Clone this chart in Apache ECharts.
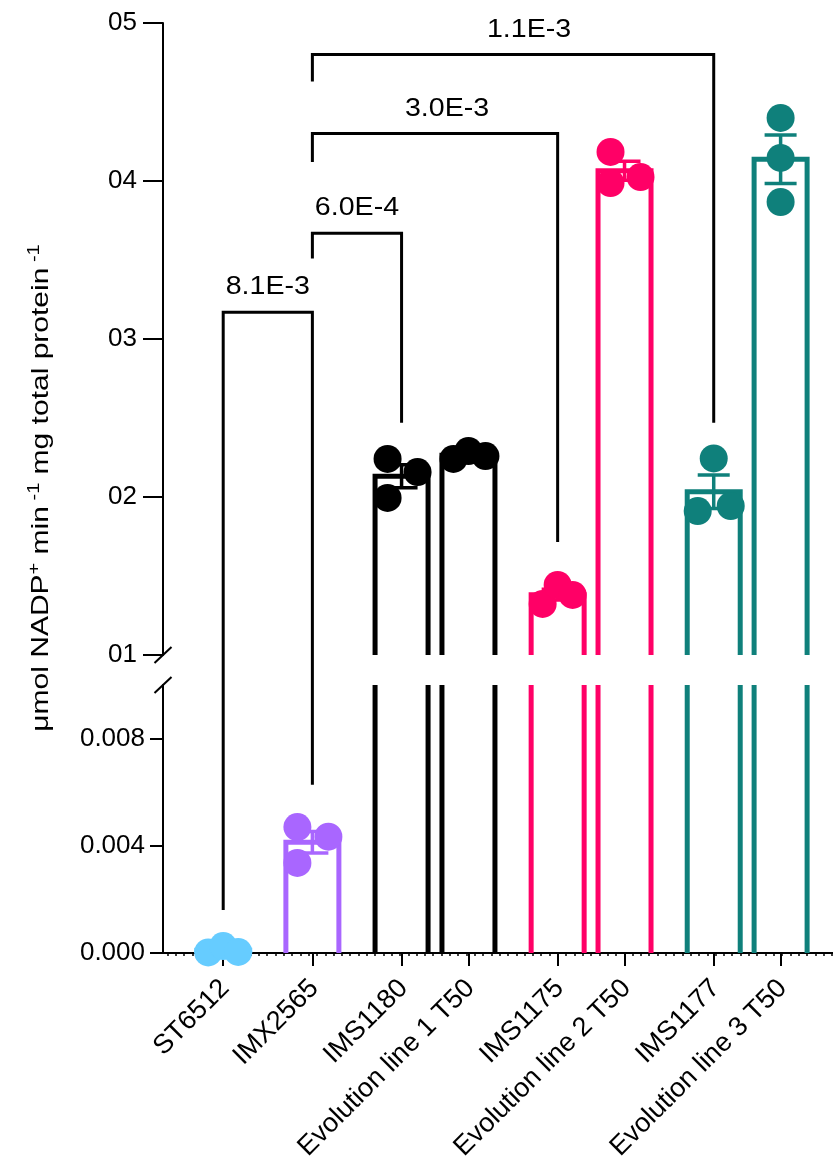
<!DOCTYPE html>
<html>
<head>
<meta charset="utf-8">
<script src="https://cdn.jsdelivr.net/npm/echarts@6/dist/echarts.min.js"></script>
<style>
  html, body { margin: 0; padding: 0; background: #fff; }
  #main { width: 833px; height: 1156px; }
</style>
</head>
<body>
<div id="main"></div>
<script>
// strains, in plotting order
const strains = ['ST6512', 'IMX2565', 'IMS1180', 'Evolution line 1 T50', 'IMS1175', 'Evolution line 2 T50', 'IMS1177', 'Evolution line 3 T50'];
// parent strain + its evolved line sit closer together
const groups = [[0], [1], [2, 3], [4, 5], [6, 7]];
const colors = ['#66ccff', '#a966ff', '#000000', '#000000', '#ff0066', '#ff0066', '#0f807b', '#0f807b'];

// three biological replicates per strain (umol NADP+ min-1 mg protein-1)
const rep1 = [0.00002, 0.00470, 0.2241, 0.2241, 0.1323, 0.4184, 0.2244, 0.4399];
const rep2 = [0.00026, 0.00434, 0.2158, 0.2291, 0.1443, 0.4025, 0.1911, 0.4146];
const rep3 = [0.00004, 0.00336, 0.1994, 0.2259, 0.1380, 0.3987, 0.1943, 0.3867];

// broken y axis
const upperTicks = [0.1, 0.2, 0.3, 0.4, 0.5];
const upperTickLabels = ['01', '02', '03', '04', '05'];
const upperMinor = [0.15, 0.25, 0.35, 0.45];
const lowerTicks = [0, 0.004, 0.008];
const lowerTickLabels = ['0.000', '0.004', '0.008'];
const lowerMinor = [0.002, 0.006];
const lowerMax = 0.01;

// significance brackets (strain index from / to, heights, p value)
const bracketFrom = [0, 1, 1, 1];
const bracketTo = [1, 2, 4, 6];
const bracketTop = [0.317, 0.367, 0.430, 0.480];
const bracketFromEnd = [0.0016, 0.351, 0.412, 0.463];
const bracketToEnd = [0.00628, 0.247, 0.1715, 0.247];
const bracketText = ['8.1E-3', '6.0E-4', '3.0E-3', '1.1E-3'];
const bracketTextShift = [0, 0, 12, 16]; // px

// horizontal jitter of the dots, px
const jitter = [[-15, 0, 15], [-15, 16, -15], [-14, 16, -14], [-15, 0, 17], [-15, 0, 15], [-14, 16, -14], [0, -16, 17], [0, 0, 0]];

const FONT = '"Liberation Sans", Arial, sans-serif';
const upperMin = upperTicks[0];
const upperMax = upperTicks[upperTicks.length - 1];
const xMin = -2.7, xMax = 27.35;

// x positions: 3 units inside a pair, 4 between groups
const pos = [];
let p = 0;
groups.forEach(g => g.forEach((s, k) => { pos[s] = p; p += k < g.length - 1 ? 3 : 4; }));

const reps = strains.map((s, i) => [rep1[i], rep2[i], rep3[i]]);
const means = reps.map(r => (r[0] + r[1] + r[2]) / 3);
const sems = reps.map((r, i) => {
  const m = means[i];
  const v = r.reduce((a, x) => a + (x - m) * (x - m), 0) / (r.length - 1);
  return Math.sqrt(v / r.length);
});
const inUpper = v => v >= upperMin;

const dotTicks = [];
for (let t = xMin + 0.2; t < xMax; t += 0.3725) dotTicks.push(t);

function barSeries(xi, yi) {
  return {
    type: 'custom', xAxisIndex: xi, yAxisIndex: yi, clip: true, z: 1, silent: true,
    data: strains.map((s, i) => [pos[i], means[i], i]),
    renderItem: (params, api) => {
      const i = api.value(2);
      const top = api.coord([api.value(0), api.value(1)]);
      const base = api.coord([api.value(0), 0]);
      const hw = 26.5;
      return {
        type: 'polyline',
        shape: { points: [[top[0] - hw, base[1]], [top[0] - hw, top[1]], [top[0] + hw, top[1]], [top[0] + hw, base[1]]] },
        style: { stroke: colors[i], lineWidth: 5, fill: null, lineJoin: 'miter' }
      };
    }
  };
}

function errSeries(xi, yi, upper) {
  const data = [];
  strains.forEach((s, i) => { if (inUpper(means[i]) === upper) data.push([pos[i], means[i], sems[i], i]); });
  return {
    type: 'custom', xAxisIndex: xi, yAxisIndex: yi, z: 2, silent: true,
    data: data,
    renderItem: (params, api) => {
      const i = api.value(3);
      const hi = api.coord([api.value(0), api.value(1) + api.value(2)]);
      const lo = api.coord([api.value(0), api.value(1) - api.value(2)]);
      const cw = 16;
      const st = { stroke: colors[i], lineWidth: 3.5 };
      return {
        type: 'group',
        children: [
          { type: 'line', shape: { x1: hi[0], y1: hi[1], x2: lo[0], y2: lo[1] }, style: st },
          { type: 'line', shape: { x1: hi[0] - cw, y1: hi[1], x2: hi[0] + cw, y2: hi[1] }, style: st },
          { type: 'line', shape: { x1: lo[0] - cw, y1: lo[1], x2: lo[0] + cw, y2: lo[1] }, style: st }
        ]
      };
    }
  };
}

function dotSeries(xi, yi, upper) {
  const data = [];
  reps.forEach((r, i) => r.forEach((v, k) => {
    if (inUpper(v) === upper) {
      data.push({ value: [pos[i], v], symbolOffset: [jitter[i][k], 0], itemStyle: { color: colors[i], opacity: 1 } });
    }
  }));
  return {
    type: 'scatter', xAxisIndex: xi, yAxisIndex: yi, z: 3, silent: true,
    symbol: 'circle', symbolSize: 28, itemStyle: { opacity: 1 }, data: data
  };
}

const tickStyle = { color: '#000', width: 2 };
const blackLine = { show: true, onZero: false, lineStyle: { color: '#000', width: 2 } };
const noLine = { show: false, onZero: false };

const option = {
  animation: false,
  grid: [
    { left: 163, right: 0, top: 23, height: 632, outerBoundsMode: 'none' },
    { left: 163, right: 0, top: 685, height: 268, outerBoundsMode: 'none' }
  ],
  xAxis: [
    { type: 'value', gridIndex: 0, min: xMin, max: xMax, show: false },
    {
      type: 'value', gridIndex: 1, min: xMin, max: xMax, position: 'bottom',
      axisLine: blackLine,
      axisTick: { show: true, customValues: pos, length: 13, lineStyle: tickStyle },
      axisLabel: { show: false },
      splitLine: { show: false }
    },
    {
      type: 'value', gridIndex: 1, min: xMin, max: xMax, position: 'bottom',
      axisLine: noLine,
      axisTick: { show: true, customValues: dotTicks, length: 3, lineStyle: { color: '#000', width: 1.5 } },
      axisLabel: { show: false },
      splitLine: { show: false }
    }
  ],
  yAxis: [
    {
      type: 'value', gridIndex: 0, min: upperMin, max: upperMax,
      axisLine: blackLine,
      axisTick: { show: true, customValues: upperTicks, length: 20, lineStyle: tickStyle },
      axisLabel: {
        show: true, customValues: upperTicks, margin: 26, fontFamily: FONT, fontSize: 26, color: '#000',
        formatter: v => upperTickLabels[upperTicks.indexOf(v)]
      },
      splitLine: { show: false }
    },
    {
      type: 'value', gridIndex: 0, min: upperMin, max: upperMax,
      axisLine: noLine,
      axisTick: { show: true, customValues: upperMinor, length: 10, lineStyle: tickStyle },
      axisLabel: { show: false },
      splitLine: { show: false }
    },
    {
      type: 'value', gridIndex: 1, min: 0, max: lowerMax,
      axisLine: blackLine,
      axisTick: { show: true, customValues: lowerTicks, length: 13, lineStyle: tickStyle },
      axisLabel: {
        show: true, customValues: lowerTicks, margin: 18, fontFamily: FONT, fontSize: 26, color: '#000',
        formatter: v => lowerTickLabels[lowerTicks.indexOf(v)]
      },
      splitLine: { show: false }
    },
    {
      type: 'value', gridIndex: 1, min: 0, max: lowerMax,
      axisLine: noLine,
      axisTick: { show: true, customValues: lowerMinor, length: 7, lineStyle: tickStyle },
      axisLabel: { show: false },
      splitLine: { show: false }
    }
  ],
  series: [
    barSeries(0, 0),
    barSeries(1, 2),
    errSeries(0, 0, true),
    errSeries(1, 2, false),
    dotSeries(0, 0, true),
    dotSeries(1, 2, false)
  ]
};

const chart = echarts.init(document.getElementById('main'));
chart.setOption(option);

// pixel position of a value, in whichever half of the broken axis it falls
function toPx(x, v) {
  return inUpper(v)
    ? chart.convertToPixel({ xAxisIndex: 0, yAxisIndex: 0 }, [x, v])
    : chart.convertToPixel({ xAxisIndex: 1, yAxisIndex: 2 }, [x, v]);
}
const lowPx = (x, v) => chart.convertToPixel({ xAxisIndex: 1, yAxisIndex: 2 }, [x, v]);

const graphics = [];
bracketText.forEach((t, b) => {
  const x1 = pos[bracketFrom[b]], x2 = pos[bracketTo[b]];
  const pts = [toPx(x1, bracketFromEnd[b]), toPx(x1, bracketTop[b]), toPx(x2, bracketTop[b]), toPx(x2, bracketToEnd[b])];
  graphics.push({ type: 'polyline', shape: { points: pts }, style: { stroke: '#000', lineWidth: 3, fill: null }, z: 5 });
  graphics.push({
    type: 'text', x: (pts[1][0] + pts[2][0]) / 2 + bracketTextShift[b], y: pts[1][1] - 25, scaleX: 1.1, z: 5,
    style: { text: t, font: '26px ' + FONT, fill: '#000', align: 'center', verticalAlign: 'middle' }
  });
});

// category labels, rotated 45 degrees under their ticks
strains.forEach((s, i) => {
  const c = lowPx(pos[i], 0);
  graphics.push({
    type: 'text', x: c[0] + 2, y: c[1] + 31, rotation: Math.PI / 4, z: 5,
    style: { text: s, font: '27px ' + FONT, fill: '#000', align: 'right', verticalAlign: 'middle' }
  });
});

// break marks on the y axis
[toPx(xMin, upperMin), lowPx(xMin, lowerMax)].forEach(c => {
  graphics.push({ type: 'line', shape: { x1: c[0] - 8.5, y1: c[1] + 8, x2: c[0] + 8.5, y2: c[1] - 8 }, style: { stroke: '#000', lineWidth: 2 }, z: 5 });
});

// y axis title, centred on the whole (broken) axis
const yTop = toPx(xMin, upperMax)[1];
const yBot = lowPx(xMin, 0)[1];
graphics.push({
  type: 'text', x: 40, y: (yTop + yBot) / 2, rotation: Math.PI / 2, scaleX: 1.25, z: 5,
  style: {
    text: '{a|\u03bcmol NADP}{s|+}{a| min}{s| -1}{a| mg total protein}{s| -1}',
    align: 'center', verticalAlign: 'middle', fill: '#000',
    rich: {
      a: { fontFamily: FONT, fontSize: 24, fill: '#000', verticalAlign: 'bottom' },
      s: { fontFamily: FONT, fontSize: 16, fill: '#000', verticalAlign: 'bottom', padding: [0, 0, 11, 0] }
    }
  }
});

chart.setOption({ graphic: graphics });
window.addEventListener('resize', function () { chart.resize(); });
</script>
</body>
</html>
